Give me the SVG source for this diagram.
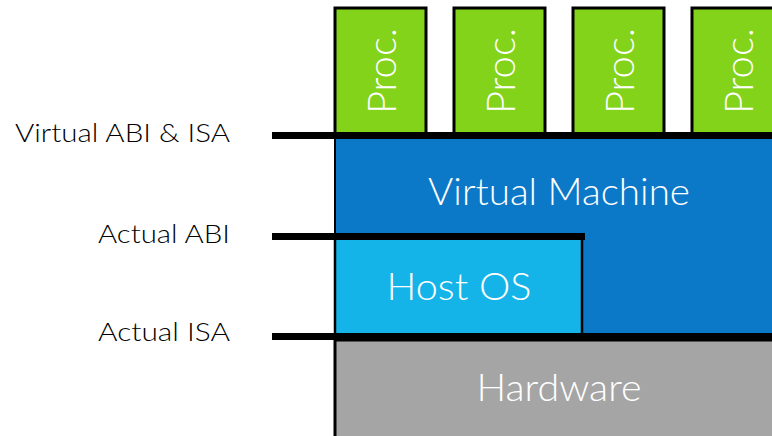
<svg xmlns="http://www.w3.org/2000/svg" width="772" height="436" viewBox="0 0 772 436">
<style>
.t{font-family:Lato,"Open Sans",sans-serif;font-weight:300;fill:#fff}
.l{font-family:Lato,"Open Sans",sans-serif;font-weight:300;fill:#000;font-size:26px;text-anchor:end}
.proc{fill:#82D31A;stroke:#000;stroke-width:3}
</style>
<rect width="772" height="436" fill="#fff"/>
<g id="hardware">
<rect x="335" y="340" width="440" height="100" fill="#A5A5A5" stroke="#000" stroke-width="3"/>
<text class="t" x="559" y="401" font-size="38" text-anchor="middle" textLength="165" lengthAdjust="spacingAndGlyphs">Hardware</text>
</g>
<g id="vm">
<rect x="335" y="138" width="440" height="198" fill="#0B78C8" stroke="#000" stroke-width="2"/>
<text class="t" x="559" y="205" font-size="38" text-anchor="middle" textLength="262" lengthAdjust="spacingAndGlyphs">Virtual Machine</text>
</g>
<g id="hostos">
<rect x="335" y="238" width="247" height="98" fill="#14B4E8" stroke="#000" stroke-width="2.5"/>
<text class="t" x="459" y="300" font-size="38" text-anchor="middle" textLength="145" lengthAdjust="spacingAndGlyphs">Host OS</text>
</g>
<g id="proc1"><rect class="proc" x="335" y="8" width="91" height="128"/><text class="t" font-size="40" text-anchor="middle" transform="translate(396 71) rotate(-90)">Proc.</text></g>
<g id="proc2"><rect class="proc" x="454" y="8" width="91" height="128"/><text class="t" font-size="40" text-anchor="middle" transform="translate(515 71) rotate(-90)">Proc.</text></g>
<g id="proc3"><rect class="proc" x="573" y="8" width="91" height="128"/><text class="t" font-size="40" text-anchor="middle" transform="translate(634 71) rotate(-90)">Proc.</text></g>
<g id="proc4"><rect class="proc" x="692" y="8" width="91" height="128"/><text class="t" font-size="40" text-anchor="middle" transform="translate(753 71) rotate(-90)">Proc.</text></g>
<g id="connectors" fill="#000">
<rect x="272" y="132" width="500" height="7"/>
<rect x="272" y="233" width="313" height="7"/>
<rect x="272" y="333" width="500" height="7"/>
</g>
<g id="labels">
<text class="l" x="230" y="142" textLength="215" lengthAdjust="spacingAndGlyphs">Virtual ABI &amp; ISA</text>
<text class="l" x="230" y="243" textLength="132" lengthAdjust="spacingAndGlyphs">Actual ABI</text>
<text class="l" x="230" y="341" textLength="132" lengthAdjust="spacingAndGlyphs">Actual ISA</text>
</g>
</svg>
